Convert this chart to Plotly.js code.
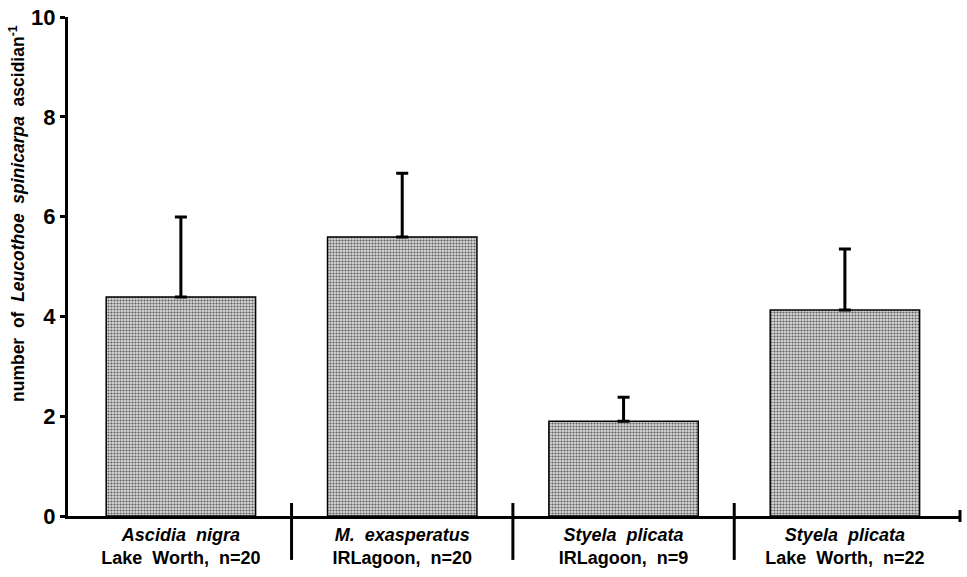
<!DOCTYPE html>
<html>
<head>
<meta charset="utf-8">
<script src="https://cdn.plot.ly/plotly-3.0.1.min.js"></script>
<style>html,body{margin:0;padding:0;background:#fff;}#chart{width:967px;height:577px;}</style>
</head>
<body>
<div id="chart"></div>
<script>
var species = ["Ascidia  nigra", "M.  exasperatus", "Styela  plicata", "Styela  plicata"];
var sites = ["Lake  Worth,  n=20", "IRLagoon,  n=20", "IRLagoon,  n=9", "Lake  Worth,  n=22"];
var means = [4.39, 5.59, 1.90, 4.13];
var errors = [1.60, 1.28, 0.48, 1.22];
var yTicks = [0, 2, 4, 6, 8, 10];

var positions = species.map(function (_, i) { return i; });
var tickText = species.map(function (s, i) {
  return "<b><i>" + s + "</i></b><br><b>" + sites[i] + "</b>";
});

var trace = {
  type: "bar",
  x: positions,
  y: means,
  width: 0.675,
  marker: {
    color: "#c0c0c0",
    line: { color: "#000", width: 1.5 },
    pattern: { shape: ".", fgcolor: "#5e5e5e", bgcolor: "#d6d6d6", size: 3, solidity: 0.38 }
  },
  error_y: {
    type: "data",
    symmetric: false,
    array: errors,
    arrayminus: errors.map(function () { return 0; }),
    color: "#000",
    thickness: 3,
    width: 6
  },
  hoverinfo: "none"
};

var sepShapes = [0.5, 1.5, 2.5].map(function (xv) {
  return { type: "line", xref: "x", yref: "paper", x0: xv, x1: xv, y0: 0.026, y1: -0.088,
           line: { color: "#000", width: 3 } };
});
sepShapes.push({ type: "line", xref: "paper", yref: "paper", x0: 1, x1: 1, y0: 0.012, y1: -0.012,
                 line: { color: "#000", width: 3 } });

var layout = {
  width: 967, height: 577,
  margin: { l: 68, r: 7, t: 17, b: 61 },
  paper_bgcolor: "#fff", plot_bgcolor: "#fff",
  showlegend: false,
  font: { family: "Liberation Sans, Arial, sans-serif", color: "#000" },
  xaxis: {
    range: [-0.51, 3.52],
    tickvals: positions,
    ticktext: tickText,
    ticks: "",
    showline: true, linewidth: 3, linecolor: "#000",
    showgrid: false, zeroline: false,
    tickfont: { size: 18, family: "Liberation Sans, Arial, sans-serif", color: "#000" }
  },
  yaxis: {
    range: [0, 10],
    tickvals: yTicks,
    ticktext: yTicks.map(function (v) { return "<b>" + v + "</b>"; }),
    ticks: "outside", ticklen: 5, tickwidth: 3, tickcolor: "#000",
    showline: true, linewidth: 3, linecolor: "#000",
    showgrid: false, zeroline: false,
    tickfont: { size: 22, family: "Liberation Sans, Arial, sans-serif", color: "#000" }
  },
  shapes: sepShapes,
  annotations: [{
    xref: "paper", yref: "paper",
    x: (17 - 68) / 892, y: (516 - 214) / 499,
    xanchor: "center", yanchor: "middle",
    textangle: -90,
    showarrow: false,
    text: "<b>number  of  <i>Leucothoe  spinicarpa</i>  ascidian<sup>-1</sup></b>",
    font: { size: 17.5, family: "Liberation Sans, Arial, sans-serif", color: "#000" }
  }]
};

Plotly.newPlot("chart", [trace], layout, { displayModeBar: false, staticPlot: true });
</script>
</body>
</html>
